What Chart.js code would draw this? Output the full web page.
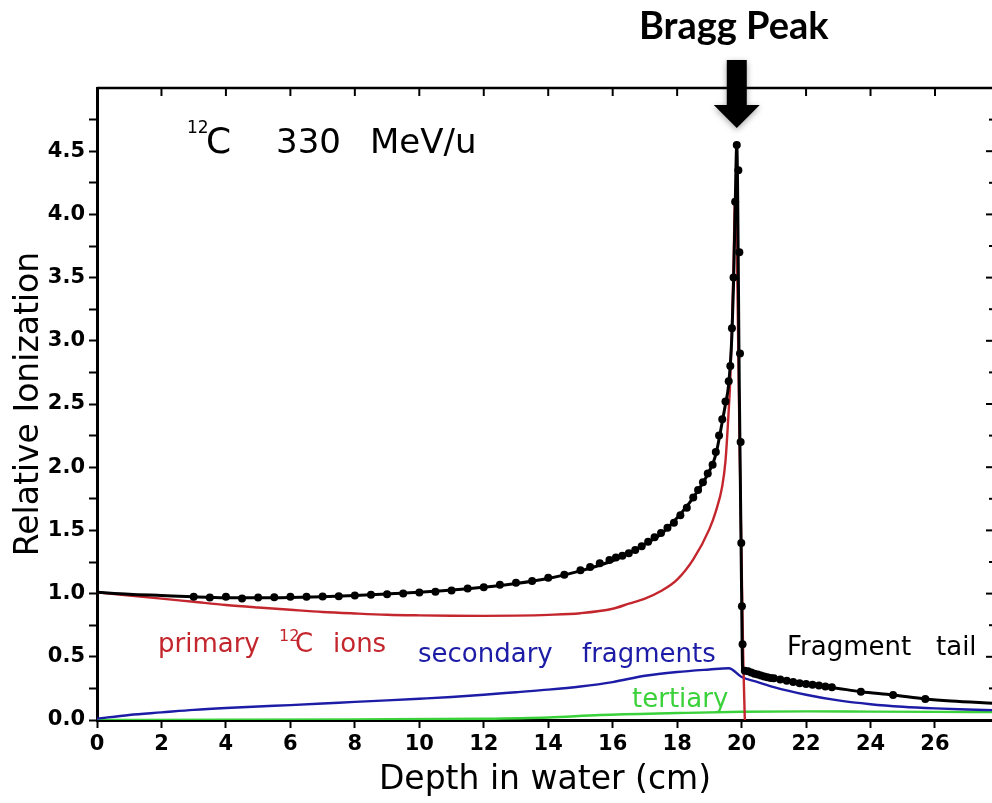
<!DOCTYPE html>
<html>
<head>
<meta charset="utf-8">
<title>Bragg Peak - 12C 330 MeV/u</title>
<script src="https://cdn.jsdelivr.net/npm/chart.js@4.4.1/dist/chart.umd.min.js"></script>
<style>
  html, body { margin: 0; padding: 0; background: #fff; overflow: hidden; }
  #wrap { width: 1000px; height: 803px; position: relative; }
</style>
</head>
<body>
<div id="wrap"><canvas id="braggChart"></canvas></div>
<script>
// Measured points (black dots)
const dotDepth = [3.0, 3.5, 4.0, 4.5, 5.0, 5.5, 6.0, 6.5, 7.0, 7.5, 8.0, 8.5, 9.0, 9.5, 10.0, 10.5, 11.0, 11.5, 12.0, 12.5, 13.0, 13.5, 14.0, 14.5, 15.0, 15.3, 15.6, 15.9, 16.1, 16.3, 16.5, 16.7, 16.9, 17.1, 17.3, 17.5, 17.7, 17.9, 18.1, 18.3, 18.5, 18.65, 18.8, 18.95, 19.1, 19.2, 19.3, 19.4, 19.5, 19.6, 19.65, 19.7, 19.75, 19.8, 19.85, 19.9, 19.93, 19.95, 19.97, 19.99, 20.01, 20.03, 20.1, 20.2, 20.3, 20.4, 20.5, 20.6, 20.7, 20.8, 20.9, 21.0, 21.2, 21.4, 21.6, 21.8, 22.0, 22.2, 22.4, 22.6, 22.8, 23.7, 24.7, 25.7];
const dotValue = [0.975, 0.97, 0.975, 0.962, 0.97, 0.972, 0.975, 0.975, 0.978, 0.98, 0.985, 0.99, 0.995, 1.0, 1.008, 1.015, 1.025, 1.04, 1.05, 1.07, 1.085, 1.1, 1.125, 1.15, 1.185, 1.21, 1.24, 1.265, 1.285, 1.3, 1.32, 1.345, 1.375, 1.41, 1.445, 1.48, 1.52, 1.56, 1.62, 1.68, 1.76, 1.82, 1.88, 1.95, 2.02, 2.12, 2.25, 2.38, 2.52, 2.68, 2.8, 3.1, 3.5, 4.1, 4.55, 4.35, 3.7, 2.9, 2.2, 1.4, 0.9, 0.6, 0.39, 0.385, 0.375, 0.365, 0.36, 0.352, 0.345, 0.338, 0.333, 0.33, 0.32, 0.31, 0.3, 0.29, 0.285, 0.278, 0.272, 0.266, 0.26, 0.224, 0.198, 0.166];

// Total (black line)
const totalDepth = [0, 1, 2, 3, 4, 5, 6, 7, 8, 9, 10, 11, 12, 13, 14, 15, 16, 16.5, 17, 17.5, 18, 18.5, 19, 19.2, 19.4, 19.5, 19.6, 19.7, 19.75, 19.8, 19.85, 19.93, 20.0, 20.03, 20.1, 20.5, 21, 21.5, 22, 22.5, 23, 23.7, 24.7, 25.7, 26.5, 27.8];
const totalValue = [1.01, 0.995, 0.985, 0.975, 0.968, 0.967, 0.97, 0.976, 0.985, 0.997, 1.01, 1.028, 1.05, 1.08, 1.12, 1.18, 1.26, 1.32, 1.39, 1.47, 1.6, 1.76, 1.97, 2.1, 2.36, 2.5, 2.66, 3.05, 3.45, 4.05, 4.55, 2.6, 1.0, 0.41, 0.385, 0.36, 0.33, 0.305, 0.285, 0.268, 0.25, 0.224, 0.198, 0.166, 0.15, 0.133];

// Primary 12C ions (red)
const primaryDepth = [0, 1, 2, 3, 4, 5, 6, 7, 8, 9, 10, 11, 12, 13, 14, 15, 16, 16.5, 17, 17.5, 18, 18.5, 19, 19.2, 19.4, 19.5, 19.6, 19.65, 19.7, 19.75, 19.8, 19.95, 20.05, 20.1];
const primaryValue = [1.01, 0.985, 0.96, 0.935, 0.91, 0.89, 0.872, 0.855, 0.843, 0.833, 0.828, 0.825, 0.824, 0.826, 0.832, 0.845, 0.88, 0.92, 0.96, 1.02, 1.11, 1.27, 1.51, 1.65, 1.85, 2.05, 2.45, 2.7, 3.1, 3.6, 4.15, 2.0, 0.5, 0];

// Secondary fragments (blue)
const secondaryDepth = [0, 1, 2, 3, 4, 5, 6, 7, 8, 9, 10, 11, 12, 13, 14, 15, 16, 17, 18, 19, 19.6, 20.0, 20.5, 21, 22, 23, 24, 25, 26, 27, 27.8];
const secondaryValue = [0.01, 0.04, 0.06, 0.08, 0.095, 0.107, 0.118, 0.13, 0.143, 0.155, 0.168, 0.182, 0.2, 0.22, 0.24, 0.265, 0.3, 0.35, 0.38, 0.4, 0.41, 0.34, 0.3, 0.26, 0.2, 0.155, 0.125, 0.105, 0.092, 0.083, 0.078];

// Tertiary (green)
const tertiaryDepth = [0, 4, 8, 12, 14, 15.6, 18, 20, 22, 24, 26, 27.8];
const tertiaryValue = [0, 0.002, 0.005, 0.01, 0.02, 0.04, 0.055, 0.065, 0.068, 0.066, 0.064, 0.062];

const xTickStep = 2;
const yTickStep = 0.25;
const peakDepth = 19.85;

function toPoints(xs, ys) {
    return xs.map((x, i) => ({ x: x, y: ys[i] }));
}

// Frame: top border, inward ticks on top and right
const framePlugin = {
    id: "frame",
    afterDraw(chart) {
        const ctx = chart.ctx;
        const area = chart.chartArea;
        const xs = chart.scales.x;
        const ys = chart.scales.y;
        ctx.save();
        ctx.strokeStyle = "#000";
        ctx.lineWidth = 2.5;
        ctx.beginPath();
        ctx.moveTo(area.left, area.top);
        ctx.lineTo(area.right + 2, area.top);
        ctx.stroke();
        ctx.lineWidth = 2;
        xs.ticks.forEach(t => {
            const px = xs.getPixelForValue(t.value);
            ctx.beginPath();
            ctx.moveTo(px, area.top);
            ctx.lineTo(px, area.top + 8);
            ctx.stroke();
        });
        ys.ticks.forEach(t => {
            const py = ys.getPixelForValue(t.value);
            const len = (Math.round(t.value * 100) % 50 === 0) ? 7 : 4;
            ctx.beginPath();
            ctx.moveTo(area.right - len, py);
            ctx.lineTo(area.right, py);
            ctx.stroke();
        });
        ctx.restore();
    }
};

function drawText(ctx, text, x, y, font, color) {
    ctx.font = font;
    ctx.fillStyle = color;
    ctx.fillText(text, x, y);
}

// Curve labels, beam label, Bragg Peak arrow
const labelPlugin = {
    id: "labels",
    afterDraw(chart) {
        const ctx = chart.ctx;
        const xs = chart.scales.x;
        ctx.save();
        ctx.textAlign = "left";
        ctx.textBaseline = "alphabetic";
        const f = '26px "DejaVu Sans"';
        const sup = '16px "DejaVu Sans"';

        drawText(ctx, "12", 187, 133, '17px "DejaVu Sans"', "#000");
        drawText(ctx, "C", 206, 153, '36px "DejaVu Sans"', "#000");
        drawText(ctx, "330", 276, 153, '34px "DejaVu Sans"', "#000");
        drawText(ctx, "MeV/u", 370, 153, '34px "DejaVu Sans"', "#000");

        const red = "#c4262e";
        drawText(ctx, "primary", 158, 652, f, red);
        drawText(ctx, "12", 279, 641, sup, red);
        drawText(ctx, "C", 295, 652, f, red);
        drawText(ctx, "ions", 333, 652, f, red);

        const blue = "#1c1ca6";
        drawText(ctx, "secondary", 418, 662, f, blue);
        drawText(ctx, "fragments", 582, 662, f, blue);

        drawText(ctx, "tertiary", 632, 707, f, "#3ad13a");

        drawText(ctx, "Fragment", 787, 655, f, "#000");
        drawText(ctx, "tail", 936, 655, f, "#000");

        // Bragg Peak title and arrow
        const px = xs.getPixelForValue(peakDepth);
        ctx.textAlign = "center";
        ctx.textBaseline = "middle";
        drawText(ctx, "Bragg Peak", px - 3, 27, 'bold 38px Lato', "#000");

        ctx.shadowColor = "rgba(0,0,0,0.35)";
        ctx.shadowBlur = 6;
        ctx.shadowOffsetY = 2;
        ctx.fillStyle = "#000";
        ctx.beginPath();
        ctx.moveTo(px - 10, 60);
        ctx.lineTo(px + 10, 60);
        ctx.lineTo(px + 10, 105);
        ctx.lineTo(px + 23, 105);
        ctx.lineTo(px, 128);
        ctx.lineTo(px - 23, 105);
        ctx.lineTo(px - 10, 105);
        ctx.closePath();
        ctx.fill();
        ctx.restore();
    }
};

const ctx = document.getElementById("braggChart").getContext("2d");
new Chart(ctx, {
    type: "scatter",
    data: {
        datasets: [
            {
                label: "Measured",
                data: toPoints(dotDepth, dotValue),
                showLine: false,
                pointRadius: 4,
                pointBackgroundColor: "#000",
                pointBorderColor: "#000",
                pointBorderWidth: 0
            },
            {
                label: "Total",
                data: toPoints(totalDepth, totalValue),
                showLine: true,
                borderColor: "#000",
                borderWidth: 3,
                pointRadius: 0,
                cubicInterpolationMode: "monotone"
            },
            {
                label: "primary 12C ions",
                data: toPoints(primaryDepth, primaryValue),
                showLine: true,
                borderColor: "#c4262e",
                borderWidth: 2.4,
                pointRadius: 0,
                cubicInterpolationMode: "monotone"
            },
            {
                label: "secondary fragments",
                data: toPoints(secondaryDepth, secondaryValue),
                showLine: true,
                borderColor: "#1c1ca6",
                borderWidth: 2.4,
                pointRadius: 0,
                cubicInterpolationMode: "monotone"
            },
            {
                label: "tertiary",
                data: toPoints(tertiaryDepth, tertiaryValue),
                showLine: true,
                borderColor: "#3ad13a",
                borderWidth: 2.4,
                pointRadius: 0,
                cubicInterpolationMode: "monotone"
            }
        ]
    },
    options: {
        responsive: true,
        maintainAspectRatio: false,
        animation: false,
        layout: { padding: { top: 88, right: 7, left: 0, bottom: 0 } },
        plugins: {
            legend: { display: false },
            tooltip: { enabled: false }
        },
        scales: {
            x: {
                type: "linear",
                min: 0,
                max: 27.8,
                afterFit(scale) { scale.height = 83; },
                border: { color: "#000", width: 3 },
                grid: { drawOnChartArea: false, drawTicks: true, tickLength: 8, tickWidth: 2, tickColor: "#000" },
                ticks: {
                    stepSize: xTickStep,
                    includeBounds: false,
                    maxRotation: 0,
                    padding: 4,
                    color: "#000",
                    font: { family: "DejaVu Sans", weight: "bold", size: 21 }
                },
                title: {
                    display: true,
                    text: "Depth in water (cm)",
                    color: "#000",
                    font: { family: "DejaVu Sans", size: 33 },
                    padding: { top: 0, bottom: 3 }
                }
            },
            y: {
                type: "linear",
                min: 0,
                max: 5,
                afterFit(scale) { scale.width = 97; },
                border: { color: "#000", width: 3 },
                grid: { drawOnChartArea: false, drawTicks: true, tickLength: 8, tickWidth: 2, tickColor: "#000" },
                ticks: {
                    stepSize: yTickStep,
                    includeBounds: false,
                    padding: 4,
                    color: "#000",
                    font: { family: "DejaVu Sans", weight: "bold", size: 21 },
                    callback: function (value) {
                        if (value >= 5) return null;
                        return (Math.round(value * 100) % 50 === 0) ? value.toFixed(1) : "";
                    }
                },
                title: {
                    display: true,
                    text: "Relative Ionization",
                    color: "#000",
                    font: { family: "DejaVu Sans", size: 33 },
                    padding: { top: 10, bottom: 0 }
                }
            }
        }
    },
    plugins: [framePlugin, labelPlugin]
});
</script>
</body>
</html>
